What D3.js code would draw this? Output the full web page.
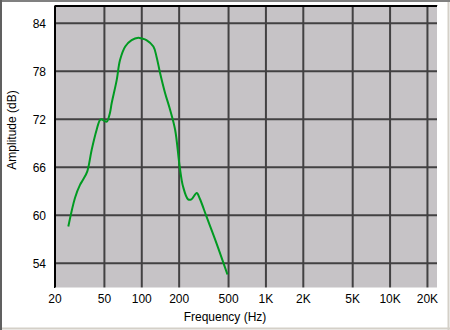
<!DOCTYPE html>
<html>
<head>
<meta charset="utf-8">
<script src="https://cdn.jsdelivr.net/npm/d3@7"></script>
<style>
  body { margin: 0; background: #fff; }
  svg text { font-family: "Liberation Sans", Arial, sans-serif; font-size: 12px; fill: #000; }
</style>
</head>
<body>
<div id="chart"></div>
<script>
// frequency (Hz) and amplitude (dB)
var freq = [25.6, 29, 31.8, 33.8, 36.4, 39.5, 43.3, 46, 47.5, 50, 52.2, 55.4, 57.2,
  62.8, 66.8, 73.6, 82.8, 93.8, 100, 109, 124, 131.6, 140.4, 154, 169, 185.6, 202, 215,
  236, 251, 277, 293, 333, 400, 490];
var amp = [58.6, 62.2, 63.8, 64.5, 65.5, 68.2, 70.7, 71.9, 72.0, 71.8, 71.7, 72.8, 74.0,
  76.9, 79.4, 81.1, 81.9, 82.2, 82.1, 81.9, 81.1, 79.8, 77.8, 75.3, 73.2, 70.7, 66.1, 63.6,
  62.0, 62.0, 62.8, 62.1, 59.8, 56.5, 52.6];

var xTicks = [20, 50, 100, 200, 500, 1000, 2000, 5000, 10000, 20000];
var xTickLabels = ["20", "50", "100", "200", "500", "1K", "2K", "5K", "10K", "20K"];
var yTicks = [54, 60, 66, 72, 78, 84];

const w = 450;
const h = 330;
const pLeft = 55, pRight = 437.5, pTop = 5.5, pBottom = 288;

var svg = d3.select("#chart")
  .append("svg")
  .attr("width", w)
  .attr("height", h);

// window frame
svg.append("rect").attr("x", 0).attr("y", 0).attr("width", w).attr("height", h).attr("fill", "#fff");
svg.append("line").attr("x1", 0).attr("y1", 1).attr("x2", w).attr("y2", 1).attr("stroke", "#808080").attr("stroke-width", 2);
svg.append("line").attr("x1", 1).attr("y1", 0).attr("x2", 1).attr("y2", h).attr("stroke", "#606060").attr("stroke-width", 2);
svg.append("line").attr("x1", w - 1.5).attr("y1", 2).attr("x2", w - 1.5).attr("y2", h).attr("stroke", "#d4d0c8").attr("stroke-width", 2);
svg.append("line").attr("x1", 2).attr("y1", h - 1.5).attr("x2", w).attr("y2", h - 1.5).attr("stroke", "#d4d0c8").attr("stroke-width", 2);

var x = d3.scaleLog().domain([20, 24100]).range([pLeft, pRight]);
var y = d3.scaleLinear().domain([54, 84]).range([263.3, 23.3]);

// plot area
svg.append("rect")
  .attr("x", pLeft).attr("y", pTop)
  .attr("width", pRight - pLeft).attr("height", pBottom - pTop)
  .attr("fill", "#c6c3c6");

// grid
svg.append("g").selectAll("line").data(xTicks.slice(1))
  .join("line")
  .attr("x1", d => x(d)).attr("x2", d => x(d))
  .attr("y1", pTop).attr("y2", pBottom)
  .attr("stroke", "#424142").attr("stroke-width", 2);

svg.append("g").selectAll("line").data(yTicks)
  .join("line")
  .attr("x1", pLeft).attr("x2", pRight)
  .attr("y1", d => y(d)).attr("y2", d => y(d))
  .attr("stroke", "#424142").attr("stroke-width", 2);

// plot borders
svg.append("line").attr("x1", pLeft).attr("x2", pRight).attr("y1", pTop + 0.5).attr("y2", pTop + 0.5)
  .attr("stroke", "#000").attr("stroke-width", 2);
svg.append("line").attr("x1", pLeft).attr("x2", pLeft).attr("y1", pTop).attr("y2", pBottom)
  .attr("stroke", "#000").attr("stroke-width", 2);
svg.append("line").attr("x1", pLeft).attr("x2", pRight).attr("y1", pBottom).attr("y2", pBottom)
  .attr("stroke", "#fff").attr("stroke-width", 1);
svg.append("line").attr("x1", pRight).attr("x2", pRight).attr("y1", pTop).attr("y2", pBottom)
  .attr("stroke", "#fff").attr("stroke-width", 1);

// x axis labels
svg.append("g").selectAll("text").data(xTicks)
  .join("text")
  .attr("x", d => x(d))
  .attr("y", 303)
  .attr("text-anchor", "middle")
  .text((d, i) => xTickLabels[i]);

// y axis labels
svg.append("g").selectAll("text").data(yTicks)
  .join("text")
  .attr("x", 46)
  .attr("y", d => y(d) + 4.5)
  .attr("text-anchor", "end")
  .text(d => d);

svg.append("text")
  .attr("x", 225).attr("y", 321)
  .attr("text-anchor", "middle")
  .text("Frequency (Hz)");

svg.append("text")
  .attr("transform", "translate(16,130) rotate(-90)")
  .attr("text-anchor", "middle")
  .text("Amplitude (dB)");

// response curve
var pts = freq.map((f, i) => [f, amp[i]]);
var line = d3.line()
  .x(d => x(d[0]))
  .y(d => y(d[1]))
  .curve(d3.curveCatmullRom.alpha(0.5));

svg.append("path")
  .datum(pts)
  .attr("d", line)
  .attr("fill", "none")
  .attr("stroke", "#009a21")
  .attr("stroke-width", 2);
</script>
</body>
</html>
